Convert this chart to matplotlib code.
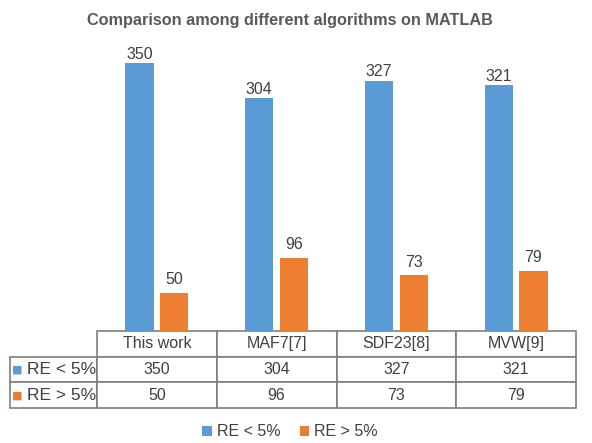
import matplotlib.pyplot as plt
import numpy as np

plt.rcParams['font.family'] = ['Liberation Sans', 'DejaVu Sans']

# data
categories = ["This work", "MAF7[7]", "SDF23[8]", "MVW[9]"]
series_names = ["RE < 5%", "RE > 5%"]
re_low = [350, 304, 327, 321]
re_high = [50, 96, 73, 79]

blue = "#5B9BD5"
orange = "#ED7D31"
txt = "#404040"

fig = plt.figure(figsize=(5.92, 4.43), dpi=100)
ax = fig.add_axes([97 / 592, 112 / 443, 479 / 592, 306 / 443])

x = np.arange(len(categories))
w = 0.235
b1 = ax.bar(x - 0.145, re_low, w, color=blue, label=series_names[0])
b2 = ax.bar(x + 0.145, re_high, w, color=orange, label=series_names[1])
ax.bar_label(b1, padding=1, fontsize=11.5, color=txt)
ax.bar_label(b2, padding=4, fontsize=11.5, color=txt)

ax.set_xlim(-0.5, len(categories) - 0.5)
ax.set_ylim(0, 400)
ax.axis("off")

# data table under the bars
cell_text = [[""] + categories,
             [series_names[0]] + [str(v) for v in re_low],
             [series_names[1]] + [str(v) for v in re_high]]
lab_w = 87 / 479
tbl = ax.table(cellText=cell_text, cellLoc="center",
               colWidths=[lab_w] + [1 / 4] * 4,
               bbox=[-lab_w, -0.252, 1 + lab_w, 0.252])
tbl.auto_set_font_size(False)
for (r, c), cell in tbl.get_celld().items():
    cell.set_edgecolor("#7f7f7f")
    cell.set_linewidth(1.2)
    cell.get_text().set_fontsize(11.5)
    cell.get_text().set_color(txt)
    if c == 0:
        cell.get_text().set_ha("right")
        cell.get_text().set_fontsize(12.5)
        cell.PAD = 0.015
    if r == 0 and c == 0:
        cell.visible_edges = ""

# coloured keys next to the row labels
for i, col in enumerate([blue, orange]):
    ax.text(-lab_w + 0.005, -0.252 * (1.5 + i) / 3, "■", color=col,
            fontsize=8, va="center", ha="left", transform=ax.transAxes,
            family="DejaVu Sans")

fig.text(0.49, 0.953, "Comparison among different algorithms on MATLAB",
         ha="center", va="center", fontsize=11.7, fontweight="bold", color="#595959")

fig.legend(handles=[b1, b2], loc="center", bbox_to_anchor=(0.49, 1 - 432 / 443),
           ncol=2, frameon=False, fontsize=11.5, handlelength=0.6, handleheight=0.6,
           handletextpad=0.3, columnspacing=1.2, labelcolor=txt)

fig.savefig("out.png", dpi=100)
